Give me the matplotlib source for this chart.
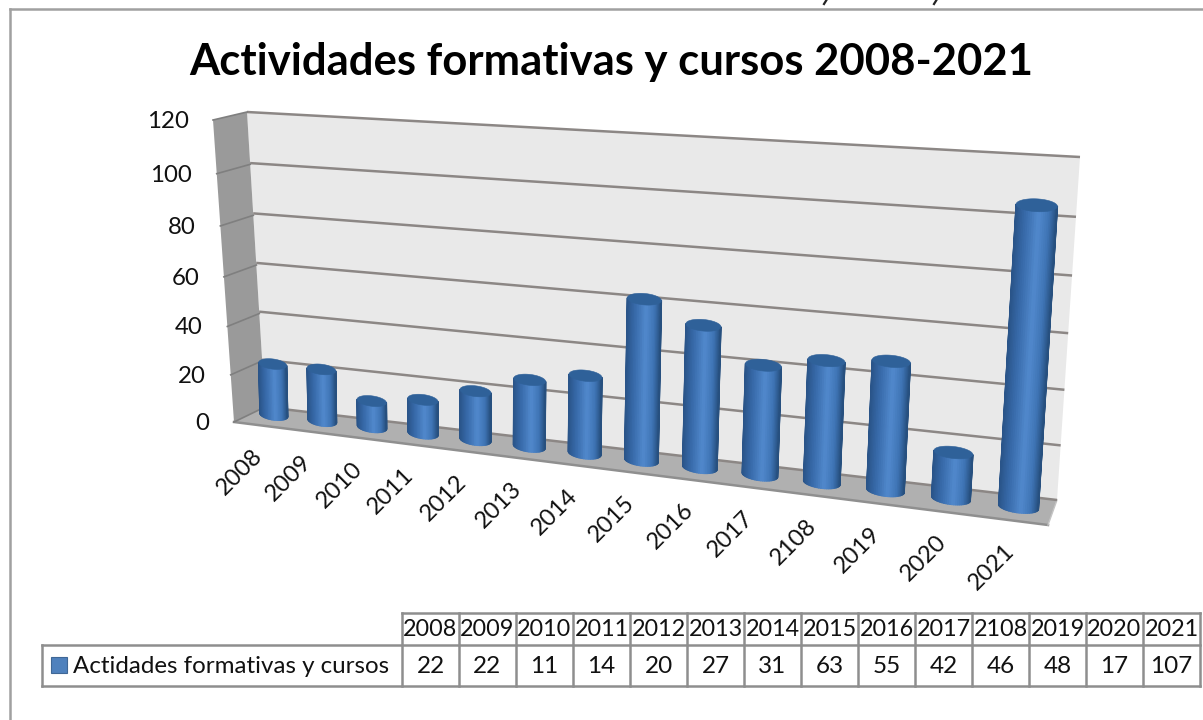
import numpy as np
import matplotlib
matplotlib.use("Agg")
import matplotlib.pyplot as plt
from matplotlib.collections import PolyCollection
from matplotlib.transforms import Transform
from matplotlib.patches import Polygon, Rectangle
from matplotlib.colors import LinearSegmentedColormap

TITLE = "Actividades formativas y cursos 2008-2021"
SERIES = "Actidades formativas y cursos"
years = ["2008","2009","2010","2011","2012","2013","2014","2015","2016","2017","2108","2019","2020","2021"]
values = [22,22,11,14,20,27,31,63,55,42,46,48,17,107]
yticks = [0,20,40,60,80,100,120]

FONT = "Lato"
plt.rcParams["font.family"] = [FONT, "DejaVu Sans"]

class Homography(Transform):
    input_dims = 2
    output_dims = 2
    def __init__(self, src, dst):
        super().__init__()
        A, b = [], []
        for (u, v), (x, y) in zip(src, dst):
            A.append([u, v, 1, 0, 0, 0, -u*x, -v*x]); b.append(x)
            A.append([0, 0, 0, u, v, 1, -u*y, -v*y]); b.append(y)
        self.h = np.append(np.linalg.solve(np.array(A, float), np.array(b, float)), 1).reshape(3, 3)
    def transform_non_affine(self, pts):
        pts = np.asarray(pts, float)
        w = self.h[2, 0]*pts[:, 0] + self.h[2, 1]*pts[:, 1] + self.h[2, 2]
        x = (self.h[0, 0]*pts[:, 0] + self.h[0, 1]*pts[:, 1] + self.h[0, 2]) / w
        y = (self.h[1, 0]*pts[:, 0] + self.h[1, 1]*pts[:, 1] + self.h[1, 2]) / w
        return np.column_stack([x, y])

fig = plt.figure(figsize=(12.03, 7.2), dpi=100)
ax = fig.add_axes([0, 0, 1, 1])
ax.set_xlim(0, 1203); ax.set_ylim(720, 0); ax.axis("off"); ax.set_autoscale_on(False)

n = len(years); vmax = yticks[-1]
box = [(0, 0), (n, 0), (n, vmax), (0, vmax)]
wall = Homography(box, [(265, 407), (1057, 500), (1080, 157), (247, 112)]) + ax.transData
plane = Homography(box, [(250, 412), (1053, 511), (1075, 169), (243, 129)]) + ax.transData
labels = Homography(box, [(216, 469), (1026, 571), (1026, 229), (216, 186)]) + ax.transData
side_h = Homography([(0, 0), (1, 0), (1, vmax), (0, vmax)],
                    [(234, 422), (265, 407), (247, 112), (213, 120)])
side = side_h + ax.transData
GRID = "#8c8785"

# frame
ax.plot([10, 1203], [9, 9], color="#a0a0a0", lw=1.8)
ax.plot([10, 10], [9, 720], color="#a0a0a0", lw=1.8)
for cx in (825, 935):          # clipped descenders of the page text above the chart
    ax.plot([cx + 1.5, cx - 1], [0, 4], color="#222222", lw=1.6)

ax.text(611, 62, TITLE, fontsize=31.4, fontweight="bold", ha="center", va="center")

# walls and floor
ax.add_patch(Polygon(box, closed=True, transform=wall, fc="#e9e9e9", ec="none"))
ax.add_patch(Polygon([(0, 0), (1, 0), (1, vmax), (0, vmax)], closed=True, transform=side, fc="#9a9a9a", ec="none"))
ax.add_patch(Polygon([(234, 422), (265, 407), (1057, 500), (1048, 525)], closed=True, fc="#b0b0b0", ec="none"))
ax.plot([234, 1048], [422, 525], color="#8f8f8f", lw=1.8)
ax.plot([1048, 1057], [525, 500], color="#c4c4c4", lw=1)
for t in yticks:
    ax.plot([0, n], [t, t], transform=wall, color=GRID, lw=1.8, solid_capstyle="butt")
    ax.plot([0, 1], [t, t], transform=side, color="#7f7f7f", lw=1.2)
    fx, fy = side_h.transform_non_affine(np.array([[0.0, t]]))[0]
    ax.text(fx - 24.5, fy + 1.5, str(t), fontsize=17.3, ha="right", va="center", color="#111111")

# cylinders
shade = LinearSegmentedColormap.from_list("cyl", [(0, "#2a5488"), (0.2, "#3567a6"), (0.55, "#5189cd"),
                                                 (0.8, "#3f74b5"), (1, "#27507f")])
R, E = 0.29, 2.2
th = np.linspace(-np.pi/2, np.pi/2, 30)
th_all = np.linspace(0, 2*np.pi, 80)
for i, val in enumerate(values):
    c = i + 0.5
    quads = []
    for a, b in zip(th[:-1], th[1:]):
        quads.append([(c + R*np.sin(a), -E*np.cos(a)), (c + R*np.sin(b), -E*np.cos(b)),
                      (c + R*np.sin(b), val - E*np.cos(b)), (c + R*np.sin(a), val - E*np.cos(a))])
    cols = shade((np.sin(th[:-1]) + 1) / 2)
    ax.add_collection(PolyCollection(quads, facecolors=cols, edgecolors=cols, linewidths=1.0,
                                     transform=plane, zorder=5))
    ax.add_patch(Polygon(np.column_stack([c + R*np.cos(th_all), val + E*np.sin(th_all)]), closed=True,
                         transform=plane, fc="#2f6199", ec="#2f6199", lw=0.4, zorder=6))
    ax.text(c, 0, years[i], transform=labels, fontsize=17, rotation=45, rotation_mode="anchor",
            ha="center", va="center", color="#111111", zorder=7)

# data table
col0, colw, ytop, ymid, ybot = 402, 57, 613, 645, 686
TC = "#8e8e8e"
xs = [col0 + colw*k for k in range(n + 1)]
ax.plot([col0, xs[-1]], [ytop, ytop], color=TC, lw=1.8)
ax.plot([42, xs[-1]], [ymid, ymid], color=TC, lw=1.8)
ax.plot([42, xs[-1]], [ybot, ybot], color=TC, lw=1.8)
ax.plot([42, 42], [ymid, ybot], color=TC, lw=1.8)
for x in xs:
    ax.plot([x, x], [ytop, ybot], color=TC, lw=1.8)
for k in range(n):
    cx = xs[k] + colw/2
    ax.text(cx, (ytop + ymid)/2 + 1, years[k], fontsize=16.8, ha="center", va="center", color="#111111")
    ax.text(cx, (ymid + ybot)/2 + 1, str(values[k]), fontsize=17.5, ha="center", va="center", color="#111111")
ax.add_patch(Rectangle((51, 657), 16, 16, fc="#4f81bd", ec="#3f6796", lw=0.8))
ax.text(73, (ymid + ybot)/2 + 1, SERIES, fontsize=17.4, ha="left", va="center", color="#111111")

fig.savefig("out.png", dpi=100)
